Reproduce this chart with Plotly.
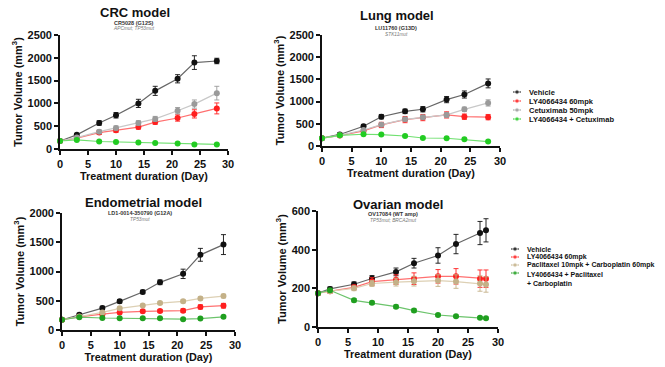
import plotly.graph_objects as go

# ---------------- data ----------------
days_a = [0, 3, 7, 10, 14, 17, 21, 24, 28]
days_ov = [0, 2, 6, 9, 13, 16, 20, 23, 27, 28]

crc_vehicle = [175, 310, 570, 740, 1000, 1275, 1540, 1895, 1930]
crc_vehicle_err = [20, 30, 50, 60, 90, 100, 90, 150, 60]
crc_ly = [175, 240, 360, 410, 480, 590, 680, 770, 890]
crc_ly_err = [15, 25, 40, 45, 45, 50, 70, 90, 120]
crc_cet = [175, 250, 380, 460, 570, 660, 840, 985, 1225]
crc_cet_err = [15, 25, 40, 45, 50, 55, 70, 90, 150]
crc_combo = [175, 200, 165, 155, 140, 130, 120, 100, 100]
crc_combo_err = [15, 15, 15, 12, 12, 12, 12, 10, 10]

lung_vehicle = [175, 260, 445, 660, 780, 828, 1045, 1160, 1410]
lung_vehicle_err = [20, 30, 40, 50, 50, 60, 70, 80, 100]
lung_ly = [175, 235, 340, 474, 595, 640, 700, 660, 650]
lung_ly_err = [15, 25, 40, 60, 70, 70, 70, 60, 60]
lung_cet = [175, 240, 360, 480, 600, 650, 700, 825, 970]
lung_cet_err = [15, 25, 30, 40, 40, 40, 50, 50, 70]
lung_combo = [175, 240, 265, 258, 225, 180, 175, 150, 100]
lung_combo_err = [15, 20, 20, 20, 20, 15, 15, 15, 10]

endo_vehicle = [175, 260, 375, 490, 650, 815, 960, 1285, 1460]
endo_vehicle_err = [15, 25, 30, 30, 30, 40, 80, 110, 170]
endo_ly = [175, 225, 270, 300, 320, 325, 330, 395, 415]
endo_ly_err = [15, 20, 25, 25, 25, 25, 30, 35, 40]
endo_pc = [175, 230, 300, 370, 420, 460, 490, 540, 580]
endo_pc_err = [15, 20, 20, 20, 20, 20, 25, 25, 30]
endo_combo = [175, 220, 205, 200, 200, 200, 185, 195, 225]
endo_combo_err = [15, 15, 15, 15, 15, 15, 15, 15, 20]

ov_vehicle = [175, 197, 221, 251, 285, 330, 370, 429, 486, 500]
ov_vehicle_err = [8, 10, 12, 15, 20, 25, 40, 50, 60, 60]
ov_ly = [175, 185, 205, 235, 245, 250, 262, 262, 250, 250]
ov_ly_err = [8, 10, 12, 20, 25, 30, 35, 40, 45, 45]
ov_pc = [175, 185, 200, 225, 232, 237, 240, 235, 225, 220]
ov_pc_err = [8, 10, 12, 15, 20, 25, 30, 35, 40, 40]
ov_combo = [175, 190, 138, 125, 105, 85, 62, 55, 48, 45]
ov_combo_err = [6, 8, 8, 8, 8, 8, 6, 6, 6, 6]

legend1_names = ["Vehicle", "LY4066434 60mpk", "Cetuximab 50mpk", "LY4066434 + Cetuximab"]
legend2_names = ["Vehicle", "LY4066434 60mpk", "Paclitaxel 10mpk + Carboplatin 60mpk",
                 "LY4066434 + Paclitaxel<br>+ Carboplatin"]

titles = ["CRC model", "Lung model", "Endometrial model", "Ovarian model"]
subtitles = [("CR5028 (G12S)", "APCmut; TP53mut"),
             ("LU11760 (G13D)", "STK11mut"),
             ("LD1-0014-350790 (G12A)", "TP53mut"),
             ("OV17084 (WT amp)", "TP53mut; BRCA2mut")]

# ---------------- styles ----------------
W, H = 665, 367
FONT = "Liberation Sans, Arial, sans-serif"
BLACK = ("#111111", "#666666")
RED = ("#ff1f1f", "#ff7070")
GREY = ("#9a9a9a", "#c8c8c8")
GREEN1 = ("#22cc22", "#70e070")
GREEN2 = ("#1f9f1f", "#6cc46c")
TAN = ("#c4b188", "#ddd0b4")

def px(x0, x1):
    return [x0 / W, x1 / W]

def py(top, bottom):
    return [1 - bottom / H, 1 - top / H]

panels = [
    dict(xd=px(60, 228), yd=py(35, 149), ymax=2500, dtick=500, days=days_a,
         series=[(crc_vehicle, crc_vehicle_err, BLACK), (crc_ly, crc_ly_err, RED),
                 (crc_cet, crc_cet_err, GREY), (crc_combo, crc_combo_err, GREEN1)]),
    dict(xd=px(322, 500), yd=py(35, 146), ymax=2500, dtick=500, days=days_a,
         series=[(lung_vehicle, lung_vehicle_err, BLACK), (lung_ly, lung_ly_err, RED),
                 (lung_cet, lung_cet_err, GREY), (lung_combo, lung_combo_err, GREEN1)]),
    dict(xd=px(62, 235), yd=py(213, 330), ymax=2000, dtick=500, days=days_a,
         series=[(endo_vehicle, endo_vehicle_err, BLACK), (endo_ly, endo_ly_err, RED),
                 (endo_pc, endo_pc_err, TAN), (endo_combo, endo_combo_err, GREEN2)]),
    dict(xd=px(318, 498), yd=py(211, 327), ymax=600, dtick=200, days=days_ov,
         series=[(ov_vehicle, ov_vehicle_err, BLACK), (ov_ly, ov_ly_err, RED),
                 (ov_pc, ov_pc_err, TAN), (ov_combo, ov_combo_err, GREEN2)]),
]

fig = go.Figure()
layout = dict(width=W, height=H, margin=dict(l=0, r=0, t=0, b=0, autoexpand=False),
              paper_bgcolor="white", plot_bgcolor="rgba(0,0,0,0)", showlegend=False,
              font=dict(family=FONT, color="#111111"), annotations=[])

title_pos = [(135, 12), (397, 15), (143, 203), (398, 204)]
sub_pos = [(134, 23, 29), (396, 28, 34), (140, 213, 219), (393, 214, 220)]

axis_common = dict(showline=True, linecolor="#111111", linewidth=1.6,
                   ticks="outside", ticklen=4, tickwidth=1.6, tickcolor="#111111",
                   showgrid=False, zeroline=False, automargin=False,
                   tickfont=dict(family=FONT, size=11, color="#111111", weight="bold"))

for i, p in enumerate(panels):
    xa = "x" if i == 0 else f"x{i+1}"
    ya = "y" if i == 0 else f"y{i+1}"
    for vals, err, (mc, lc) in p["series"]:
        fig.add_trace(go.Scatter(
            x=p["days"], y=vals, xaxis=xa, yaxis=ya,
            mode="lines+markers",
            line=dict(color=lc, width=1.2),
            marker=dict(color=mc, size=6),
            error_y=dict(type="data", array=err, color=mc, thickness=0.9, width=2.5),
            cliponaxis=False, hoverinfo="skip",
        ))
    layout["xaxis" if i == 0 else f"xaxis{i+1}"] = dict(
        domain=p["xd"], anchor=ya, range=[0, 30], dtick=5, tick0=0,
        title=dict(text="<b>Treatment duration (Day)</b>", font=dict(size=10.8), standoff=2),
        **axis_common)
    layout["yaxis" if i == 0 else f"yaxis{i+1}"] = dict(
        domain=p["yd"], anchor=xa, range=[0, p["ymax"]], dtick=p["dtick"], tick0=0,
        title=dict(text="<b>Tumor Volume (mm<sup>3</sup>)</b>", font=dict(size=11), standoff=3),
        **axis_common)
    tx, ty = title_pos[i]
    layout["annotations"].append(dict(
        text=f"<b>{titles[i]}</b>", x=tx / W, y=1 - ty / H, xref="paper", yref="paper",
        showarrow=False, font=dict(size=13, family=FONT, color="#111111"),
        xanchor="center", yanchor="middle"))
    sx, s1, s2 = sub_pos[i]
    layout["annotations"].append(dict(
        text=f"<b>{subtitles[i][0]}</b>", x=sx / W, y=1 - s1 / H, xref="paper", yref="paper",
        showarrow=False, font=dict(size=5.5, family=FONT, color="#333333"),
        xanchor="center", yanchor="middle"))
    layout["annotations"].append(dict(
        text=f"<i>{subtitles[i][1]}</i>", x=sx / W, y=1 - s2 / H, xref="paper", yref="paper",
        showarrow=False, font=dict(size=4.8, family=FONT, color="#777777"),
        xanchor="center", yanchor="middle"))

# ---------------- manual compact legends on a pixel-space overlay axis ----------------
layout["xaxis5"] = dict(domain=[0, 1], range=[0, W], visible=False, fixedrange=True,
                        anchor="y5", automargin=False)
layout["yaxis5"] = dict(domain=[0, 1], range=[H, 0], visible=False, fixedrange=True,
                        anchor="x5", automargin=False)

legend_specs = [
    dict(x=517, y0=92, dy=9, tx=527, fs=7.5, names=legend1_names,
         colors=[BLACK, RED, GREY, GREEN1]),
    dict(x=515, y0=249, dy=8, tx=525, fs=7, names=legend2_names,
         colors=[BLACK, RED, TAN, GREEN2]),
]
for spec in legend_specs:
    for k, (name, (mc, lc)) in enumerate(zip(spec["names"], spec["colors"])):
        yy = spec["y0"] + k * spec["dy"]
        fig.add_trace(go.Scatter(
            x=[spec["x"] - 4, spec["x"], spec["x"] + 4], y=[yy, yy, yy],
            xaxis="x5", yaxis="y5", mode="lines+markers",
            line=dict(color=mc, width=1),
            marker=dict(color=mc, size=[0, 4.5, 0]),
            cliponaxis=False, hoverinfo="skip"))
        layout["annotations"].append(dict(
            text=f"<b>{name}</b>", x=spec["tx"], y=yy, xref="x5", yref="y5",
            showarrow=False, xanchor="left", yanchor="top" if "<br>" in name else "middle",
            yshift=4.5 if "<br>" in name else 0, align="left",
            font=dict(size=spec["fs"], family=FONT, color="#111111")))

fig.update_layout(**layout)
fig.write_html("out.html", config={"displayModeBar": False},
               post_script="document.body.style.margin='0px';document.body.style.overflow='hidden';")
